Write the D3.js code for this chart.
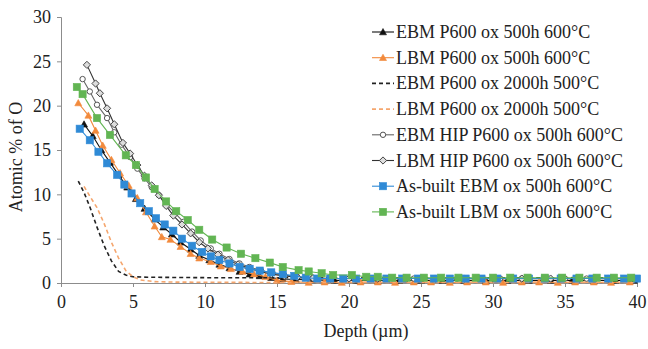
<!DOCTYPE html>
<meta charset="utf-8">
<script src="https://d3js.org/d3.v7.min.js"></script>
<style>
body { margin: 0; background: #fff; }
text { font-family: "Liberation Serif", "Times New Roman", serif; fill: #222; }
</style>
<body>
<script>

// ---- data (depth in µm, atomic % O) ----
var seriesNames = [
  "EBM P600 ox 500h 600°C",
  "LBM P600 ox 500h 600°C",
  "EBM P600 ox 2000h 500°C",
  "LBM P600 ox 2000h 500°C",
  "EBM HIP P600 ox 500h 600°C",
  "LBM HIP P600 ox 500h 600°C",
  "As-built EBM ox 500h 600°C",
  "As-built LBM ox 500h 600°C"
];

var ebmP600 = [[1.6,17.9],[2.2,16.6],[2.8,15.0],[3.4,13.6],[4.0,12.2],[4.6,10.8],[5.2,9.5],[5.8,8.4],[6.5,7.2],[7.1,6.3],[7.7,5.5],[8.3,4.6],[9.0,3.8],[9.6,3.1],[10.3,2.6],[11.0,2.1],[11.7,1.7],[12.4,1.3],[13.1,1.0],[13.8,0.8],[14.6,0.6],[15.4,0.45],[16.3,0.4],[17.5,0.35],[19,0.3],[20.5,0.3],[22,0.3],[23.5,0.3],[25,0.3],[26.5,0.3],[28,0.3],[29.5,0.3],[31,0.3],[32.5,0.3],[34,0.3],[35.5,0.3],[37,0.3],[38.5,0.3],[39.8,0.3]];

var lbmP600 = [[1.2,20.3],[1.9,18.9],[2.4,17.2],[2.9,15.5],[3.5,13.9],[4.1,12.4],[4.7,11.0],[5.3,9.6],[5.9,8.0],[6.5,6.4],[7.0,5.2],[7.6,4.9],[8.3,4.1],[9.0,3.3],[9.6,2.8],[10.4,2.4],[11.1,1.9],[11.8,1.6],[12.6,1.3],[13.4,1.0],[14.2,0.7],[15.0,0.3],[16.0,0.15],[17.2,0.05],[18.3,0.1],[19.5,0.05],[20.8,0.1],[22,0.1],[23.2,0.05],[24.5,0.1],[25.7,0.1],[27,0.05],[28.2,0.1],[29.5,0.1],[30.7,0.05],[32,0.1],[33.2,0.1],[34.5,0.05],[35.7,0.1],[37,0.1],[38.2,0.05],[39.5,0.1]];

var ebmP600_2000 = [[1.2,11.5],[1.6,10.2],[2.0,8.6],[2.5,6.3],[3.0,4.2],[3.5,2.5],[4.0,1.3],[4.5,0.9],[5.0,0.7],[6,0.65],[10,0.6],[20,0.6],[30,0.6],[40,0.6]];

var lbmP600_2000 = [[1.6,10.9],[2.0,9.8],[2.5,8.5],[3.0,6.7],[3.5,4.6],[4.0,2.8],[4.5,1.4],[5.0,0.7],[5.5,0.35],[6.5,0.15],[8,0.1],[15,0.05],[25,0.05],[40,0.05]];

var ebmHip = [[1.5,23.0],[2.0,21.6],[2.5,20.1],[3.2,18.6],[3.7,17.0],[4.2,15.6],[4.8,14.2],[5.3,12.9],[5.8,11.8],[6.3,10.8],[6.8,9.9],[7.3,8.9],[7.9,7.9],[8.5,6.9],[9.1,5.8],[9.7,4.8],[10.4,3.9],[11.0,3.3],[11.7,2.7],[12.4,2.2],[13.1,1.8],[13.9,1.4],[14.7,1.1],[15.5,0.9],[16.4,0.7],[17.5,0.6],[18.6,0.5],[20,0.5],[21.5,0.5],[23,0.5],[24.5,0.5],[26,0.5],[27.5,0.5],[29,0.5],[30.5,0.5],[32,0.5],[33.5,0.5],[35,0.5],[36.5,0.5],[38,0.5],[39.5,0.5]];

var lbmHip = [[1.8,24.6],[2.4,22.5],[2.7,21.4],[3.2,19.7],[3.7,17.9],[4.3,15.8],[4.8,14.6],[5.3,13.3],[5.8,12.1],[6.3,11.0],[6.8,9.9],[7.3,8.7],[7.8,7.6],[8.4,6.6],[9.0,5.6],[9.6,4.6],[10.2,3.9],[10.9,3.2],[11.6,2.6],[12.3,2.1],[13.0,1.7],[13.8,1.3],[14.6,1.0],[15.5,0.8],[16.4,0.65],[17.5,0.55],[18.7,0.5],[20,0.5],[22,0.5],[24,0.5],[26,0.5],[28,0.5],[30,0.5],[32,0.5],[34,0.5],[36,0.5],[38,0.5],[39.8,0.5]];

var asBuiltEbm = [[1.3,17.4],[2.0,16.1],[2.6,14.8],[3.2,13.5],[3.9,12.2],[4.4,11.1],[4.9,10.1],[5.5,9.0],[6.1,8.1],[6.6,7.3],[7.2,6.6],[7.8,5.9],[8.4,5.0],[9.1,4.2],[9.8,3.5],[10.4,3.0],[11.0,2.6],[11.7,2.2],[12.4,1.8],[13.1,1.6],[13.8,1.4],[14.6,1.2],[15.4,1.0],[16.2,0.8],[17.0,0.6],[17.8,0.5],[18.7,0.5],[19.6,0.5],[20.5,0.5],[21.5,0.5],[22.6,0.5],[23.7,0.5],[24.8,0.5],[25.9,0.5],[27.0,0.5],[28.1,0.5],[29.2,0.5],[30.3,0.5],[31.4,0.5],[32.5,0.5],[33.6,0.5],[34.7,0.5],[35.8,0.5],[36.9,0.5],[38.0,0.5],[39.1,0.5],[40,0.5]];

var asBuiltLbm = [[1.1,22.1],[1.5,21.3],[2.5,18.6],[3.4,16.7],[4.5,14.4],[5.2,13.3],[5.9,11.9],[6.5,10.6],[7.3,9.2],[8.0,8.1],[8.8,7.1],[9.6,6.0],[10.5,4.9],[11.5,4.0],[12.5,3.3],[13.5,2.8],[14.5,2.3],[15.4,1.8],[16.5,1.45],[17.2,1.3],[18.1,1.1],[18.9,0.9],[20.2,0.9],[21.2,0.7],[22.0,0.7],[23.0,0.6],[24.0,0.6],[25.2,0.6],[26.4,0.6],[27.6,0.6],[28.8,0.6],[30.0,0.6],[31.2,0.6],[32.4,0.6],[33.6,0.6],[34.8,0.6],[36.0,0.6],[37.2,0.6],[38.4,0.6],[39.6,0.6]];

var xTicks = [0, 5, 10, 15, 20, 25, 30, 35, 40];
var yTicks = [0, 5, 10, 15, 20, 25, 30];

var series = [
  {name: seriesNames[0], data: ebmP600,      line: "#111",    dash: null,  marker: "triangle", fill: "#111",    stroke: "#111"},
  {name: seriesNames[1], data: lbmP600,      line: "#f28a3c", dash: null,  marker: "triangle", fill: "#f28a3c", stroke: "#f28a3c"},
  {name: seriesNames[2], data: ebmP600_2000, line: "#222",    dash: "4,3", marker: null},
  {name: seriesNames[3], data: lbmP600_2000, line: "#f5a66e", dash: "4,3", marker: null},
  {name: seriesNames[4], data: ebmHip,       line: "#666",    dash: null,  marker: "circle",   fill: "#fff",    stroke: "#555"},
  {name: seriesNames[5], data: lbmHip,       line: "#333",    dash: null,  marker: "diamond",  fill: "#ddd",    stroke: "#444"},
  {name: seriesNames[6], data: asBuiltEbm,   line: "#2f8ad6", dash: null,  marker: "square",   fill: "#2f8ad6", stroke: "#2f8ad6"},
  {name: seriesNames[7], data: asBuiltLbm,   line: "#62b553", dash: null,  marker: "square",   fill: "#62b553", stroke: "#62b553"}
];

var width = 648, height = 349;
var margin = {left: 61, right: 11, top: 17, bottom: 66};

var svg = d3.select("body").append("svg")
    .attr("width", width)
    .attr("height", height);

var x = d3.scaleLinear().domain([0, 40]).range([margin.left, width - margin.right]);
var y = d3.scaleLinear().domain([0, 30]).range([height - margin.bottom, margin.top]);

// axes
var xAxis = svg.append("g")
    .attr("transform", "translate(0," + y(0) + ")")
    .call(d3.axisBottom(x).tickValues(xTicks).tickSize(4).tickPadding(8));
var yAxis = svg.append("g")
    .attr("transform", "translate(" + x(0) + ",0)")
    .call(d3.axisLeft(y).tickValues(yTicks).tickSize(4).tickPadding(6));

[xAxis, yAxis].forEach(function(a) {
  a.select(".domain").attr("stroke", "#8c8c8c");
  a.selectAll(".tick line").attr("stroke", "#8c8c8c");
  a.selectAll(".tick text")
    .style("font-family", "'Liberation Serif', serif")
    .style("font-size", "18px")
    .attr("fill", "#333");
});

// axis titles
svg.append("text")
    .attr("x", 366).attr("y", 337)
    .attr("text-anchor", "middle")
    .style("font-size", "18px")
    .text("Depth (µm)");

svg.append("text")
    .attr("transform", "translate(22,157) rotate(-90)")
    .attr("text-anchor", "middle")
    .style("font-size", "18px")
    .text("Atomic % of O");

var line = d3.line()
    .x(function(d) { return x(d[0]); })
    .y(function(d) { return y(d[1]); });

function drawMarker(g, s, cx, cy) {
  if (s.marker === "triangle") {
    g.append("path")
      .attr("d", "M" + cx + "," + (cy - 3.5) + "L" + (cx + 3.5) + "," + (cy + 2.8) + "L" + (cx - 3.5) + "," + (cy + 2.8) + "Z")
      .attr("fill", s.fill).attr("stroke", s.stroke).attr("stroke-width", 0.6);
  } else if (s.marker === "square") {
    g.append("rect")
      .attr("x", cx - 3.6).attr("y", cy - 3.6)
      .attr("width", 7.2).attr("height", 7.2)
      .attr("fill", s.fill).attr("stroke", s.stroke).attr("stroke-width", 0.6);
  } else if (s.marker === "circle") {
    g.append("circle")
      .attr("cx", cx).attr("cy", cy).attr("r", 2.7)
      .attr("fill", s.fill).attr("stroke", s.stroke).attr("stroke-width", 1);
  } else if (s.marker === "diamond") {
    g.append("path")
      .attr("d", "M" + cx + "," + (cy - 3.6) + "L" + (cx + 3.6) + "," + cy + "L" + cx + "," + (cy + 3.6) + "L" + (cx - 3.6) + "," + cy + "Z")
      .attr("fill", s.fill).attr("stroke", s.stroke).attr("stroke-width", 1);
  }
}

// plot series
series.forEach(function(s) {
  var g = svg.append("g");
  g.append("path")
    .datum(s.data)
    .attr("d", line)
    .attr("fill", "none")
    .attr("stroke", s.line)
    .attr("stroke-width", s.dash ? 1.6 : 1.1)
    .attr("stroke-dasharray", s.dash);
  if (s.marker) {
    s.data.forEach(function(d) { drawMarker(g, s, x(d[0]), y(d[1])); });
  }
});

// legend
var legend = svg.append("g");
series.forEach(function(s, i) {
  var ly = 32 + i * 25.7;
  legend.append("line")
    .attr("x1", 372).attr("x2", 394)
    .attr("y1", ly).attr("y2", ly)
    .attr("stroke", s.line)
    .attr("stroke-width", s.dash ? 1.6 : 1.1)
    .attr("stroke-dasharray", s.dash);
  if (s.marker) drawMarker(legend, s, 383, ly);
  legend.append("text")
    .attr("x", 396).attr("y", ly + 6)
    .style("font-size", "18px")
    .text(s.name);
});

</script>
</body>
